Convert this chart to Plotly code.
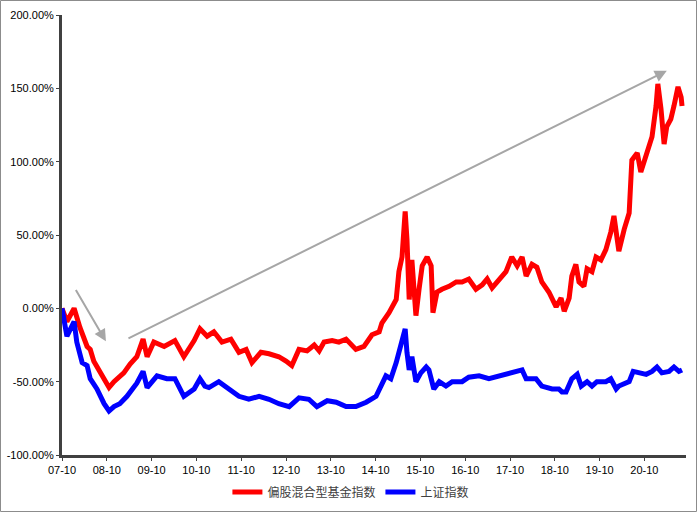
import plotly.graph_objects as go

# ---- data (x in decimal years, y in % return since 2007-10) ----
fund_x = [2007.75, 2007.86, 2008.02, 2008.15, 2008.31, 2008.38, 2008.46, 2008.60, 2008.80, 2008.91,
          2009.02, 2009.13, 2009.27, 2009.42, 2009.56, 2009.65, 2009.80, 2010.03, 2010.27, 2010.47,
          2010.70, 2010.83, 2010.99, 2011.14, 2011.32, 2011.52, 2011.70, 2011.86, 2011.99, 2012.19,
          2012.37, 2012.59, 2012.75, 2012.88, 2013.04, 2013.22, 2013.38, 2013.49, 2013.60, 2013.78,
          2013.93, 2014.09, 2014.31, 2014.49, 2014.67, 2014.83, 2014.89, 2015.05, 2015.21, 2015.27,
          2015.34, 2015.41, 2015.45, 2015.50, 2015.56, 2015.61, 2015.65, 2015.72, 2015.79, 2015.90,
          2015.99, 2016.03, 2016.12, 2016.23, 2016.39, 2016.55, 2016.68, 2016.83, 2016.99, 2017.13,
          2017.24, 2017.35, 2017.50, 2017.66, 2017.79, 2017.91, 2018.02, 2018.11, 2018.24, 2018.35,
          2018.46, 2018.62, 2018.78, 2018.89, 2018.96, 2019.07, 2019.13, 2019.22, 2019.29, 2019.40,
          2019.47, 2019.58, 2019.67, 2019.78, 2019.89, 2020.00, 2020.07, 2020.18, 2020.30, 2020.41,
          2020.47, 2020.59, 2020.67, 2020.79, 2020.85, 2020.92, 2021.01, 2021.05, 2021.12, 2021.19,
          2021.25, 2021.34, 2021.41, 2021.50, 2021.57, 2021.59]
fund_y = [0, -9, 0, -13, -26, -28, -36, -44, -54, -50,
          -47, -44, -38, -33, -21, -33, -23, -26, -22, -33,
          -22, -14, -19, -16, -23, -21, -30, -28, -37, -30,
          -31, -33, -36, -39, -28, -29, -25, -29, -23, -22,
          -23, -21, -28, -26, -18, -16, -10, -3, 6, 25,
          35, 66, 47, 6, 33, 13, -5, 13, 29, 35,
          29, -3, 11, 13, 15, 18, 18, 20, 13, 16,
          20, 14, 20, 25, 35, 29, 35, 22, 30, 28,
          18, 11, 1, 7, -2, 7, 22, 30, 18, 15,
          27, 25, 35, 33, 40, 52, 63, 39, 54, 65,
          101, 106, 93, 104, 110, 117, 138, 153, 136, 112,
          124, 129, 138, 151, 144, 138]

sh_x = [2007.75, 2007.86, 2008.02, 2008.08, 2008.20, 2008.31, 2008.38, 2008.53, 2008.69, 2008.80,
        2008.91, 2009.04, 2009.20, 2009.42, 2009.56, 2009.65, 2009.87, 2010.09, 2010.27, 2010.47,
        2010.70, 2010.83, 2010.94, 2011.03, 2011.25, 2011.48, 2011.70, 2011.92, 2012.15, 2012.37,
        2012.59, 2012.82, 2013.04, 2013.26, 2013.44, 2013.67, 2013.87, 2014.09, 2014.31, 2014.54,
        2014.76, 2014.98, 2015.09, 2015.21, 2015.32, 2015.41, 2015.45, 2015.50, 2015.56, 2015.65,
        2015.76, 2015.88, 2015.94, 2016.05, 2016.17, 2016.32, 2016.46, 2016.68, 2016.83, 2017.06,
        2017.28, 2017.50, 2017.79, 2018.02, 2018.11, 2018.33, 2018.46, 2018.69, 2018.84, 2018.91,
        2019.00, 2019.13, 2019.25, 2019.34, 2019.47, 2019.58, 2019.69, 2019.89, 2020.00, 2020.12,
        2020.18, 2020.41, 2020.50, 2020.63, 2020.79, 2020.92, 2021.03, 2021.14, 2021.30, 2021.41,
        2021.52, 2021.59]
sh_y = [0, -19, -9, -23, -37, -39, -48, -55, -65, -70,
        -67, -65, -60, -51, -43, -54, -46, -48, -48, -60,
        -55, -48, -53, -54, -50, -55, -60, -62, -60, -62,
        -65, -67, -61, -62, -67, -63, -64, -67, -67, -64,
        -60, -46, -48, -37, -23, -14, -30, -42, -33, -50,
        -44, -40, -42, -55, -50, -53, -50, -50, -47, -46,
        -48, -46, -44, -42, -48, -48, -53, -55, -55, -57,
        -57, -48, -45, -53, -50, -53, -50, -50, -48, -55,
        -53, -50, -43, -44, -45, -43, -40, -44, -43, -40,
        -43, -42]

tick_vals = [2007.75 + i for i in range(14)]
tick_text = ["07-10", "08-10", "09-10", "10-10", "11-10", "12-10", "13-10",
             "14-10", "15-10", "16-10", "17-10", "18-10", "19-10", "20-10"]
y_ticks = [-100, -50, 0, 50, 100, 150, 200]
y_text = ["-100.00%", "-50.00%", "0.00%", "50.00%", "100.00%", "150.00%", "200.00%"]

# arrows: (tail_x, tail_y, head_x, head_y)
arrows = [(2008.04, 13.5, 2008.73, -22.5),
          (2009.20, -21.0, 2021.25, 162.0)]

FONT = "Arial, 'Liberation Sans', 'Noto Sans CJK SC', sans-serif"

fig = go.Figure()
fig.add_trace(go.Scatter(x=fund_x, y=fund_y, mode="lines", name="偏股混合型基金指数",
                         line=dict(color="#FF0000", width=5)))
fig.add_trace(go.Scatter(x=sh_x, y=sh_y, mode="lines", name="上证指数",
                         line=dict(color="#0000FF", width=5)))

for tx, ty, hx, hy in arrows:
    fig.add_annotation(x=hx, y=hy, ax=tx, ay=ty, xref="x", yref="y", axref="x", ayref="y",
                       text="", showarrow=True, arrowhead=2, arrowsize=1.2, arrowwidth=2,
                       arrowcolor="#A6A6A6")

W, H = 698, 513
L, R, T, B = 62, 12, 15, 58
pw, ph = W - L - R, H - T - B
fig.add_shape(type="rect", xref="paper", yref="paper",
              x0=-(L - 0.5) / pw, x1=1 + (R - 1.5) / pw,
              y0=-(B - 1.5) / ph, y1=1 + (T - 0.5) / ph,
              line=dict(color="#8C8C8C", width=1), layer="below")

fig.update_layout(
    width=W, height=H,
    margin=dict(l=L, r=R, t=T, b=B, autoexpand=False),
    paper_bgcolor="white", plot_bgcolor="white",
    font=dict(family=FONT, size=11, color="#000000"),
    showlegend=True,
    legend=dict(orientation="h", x=0.463, xanchor="center", y=-0.084, yanchor="middle",
                font=dict(size=12, color="#404040"), bgcolor="rgba(0,0,0,0)",
                itemwidth=30, tracegroupgap=0),
    xaxis=dict(range=[2007.75, 2007.75 + pw / 44.8], tickmode="array", tickvals=tick_vals,
               ticktext=tick_text, showgrid=False, zeroline=False, showline=True,
               linecolor="#404040", linewidth=3, ticks="outside", ticklen=3, automargin=False,
               tickcolor="#404040", tickwidth=1, tickfont=dict(size=11, color="#000000")),
    yaxis=dict(range=[-100, 200], tickmode="array", tickvals=y_ticks, ticktext=y_text,
               showgrid=False, zeroline=False, showline=True, linecolor="#404040",
               linewidth=3, ticks="outside", ticklen=3, tickcolor="#404040", tickwidth=1,
               automargin=False, tickfont=dict(size=11, color="#000000")),
)

fig.write_html("out.html", config={"displayModeBar": False},
               post_script="document.body.style.margin='0';document.body.style.overflow='hidden';")
